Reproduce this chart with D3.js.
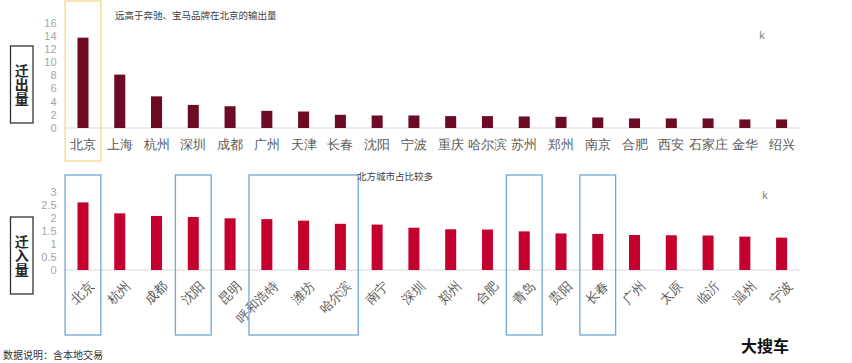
<!DOCTYPE html>
<html>
<head>
<meta charset="utf-8">
<script src="https://cdn.jsdelivr.net/npm/d3@7"></script>
<style>
  body { margin: 0; background: #fff; }
  svg { display: block; font-family: "Noto Sans CJK SC", "Noto Sans", sans-serif; }
</style>
</head>
<body>
<svg id="chart" width="852" height="363"></svg>
<script>
// 迁出量 (k)
const outCities = ["北京", "上海", "杭州", "深圳", "成都", "广州", "天津", "长春", "沈阳", "宁波",
    "重庆", "哈尔滨", "苏州", "郑州", "南京", "合肥", "西安", "石家庄", "金华", "绍兴"];
const outValues = [13.7, 8.1, 4.8, 3.5, 3.3, 2.6, 2.5, 2.0, 1.9, 1.9,
    1.8, 1.8, 1.75, 1.7, 1.6, 1.45, 1.45, 1.45, 1.3, 1.3];
const outTicks = [0, 2, 4, 6, 8, 10, 12, 14, 16];

// 迁入量 (k)
const inCities = ["北京", "杭州", "成都", "沈阳", "昆明", "呼和浩特", "潍坊", "哈尔滨", "南宁", "深圳",
    "郑州", "合肥", "青岛", "贵阳", "长春", "广州", "太原", "临沂", "温州", "宁波"];
const inValues = [2.59, 2.17, 2.07, 2.03, 1.98, 1.95, 1.89, 1.77, 1.74, 1.62,
    1.56, 1.55, 1.48, 1.40, 1.38, 1.34, 1.33, 1.32, 1.28, 1.24];
const inTicks = [0, 0.5, 1, 1.5, 2, 2.5, 3];

// highlighted groups in the lower chart
const northGroups = [["北京"], ["沈阳"], ["呼和浩特", "潍坊", "哈尔滨"], ["青岛"], ["长春"]];

const COLORS = {
    outBar: "#6d0b24",
    inBar: "#c4002f",
    tick: "#a6a6a6",
    label: "#595959",
    base: "#d9d9d9",
    yellow: "#f3d88a",
    blue: "#6fa8d6"
};

const svg = d3.select("#chart");
const X0 = 64.6, X1 = 800;

function drawPanel(cfg) {
    const x = d3.scaleBand()
        .domain(cfg.cities)
        .range([X0, X1])
        .paddingInner(0.7)
        .paddingOuter(0.35);

    const y = d3.scaleLinear()
        .domain([0, cfg.ticks[cfg.ticks.length - 1]])
        .range([cfg.base, cfg.top]);

    // baseline
    svg.append("line")
        .attr("x1", X0).attr("x2", X1)
        .attr("y1", cfg.base).attr("y2", cfg.base)
        .attr("stroke", COLORS.base).attr("stroke-width", 1);

    // y axis
    const yAxis = svg.append("g")
        .attr("transform", `translate(${X0},0)`)
        .call(d3.axisLeft(y).tickValues(cfg.ticks).tickFormat(d3.format("~g")).tickSize(0).tickPadding(8));
    yAxis.select(".domain").remove();
    yAxis.selectAll("text")
        .attr("fill", COLORS.tick)
        .style("font-family", "'Liberation Sans', sans-serif")
        .style("font-size", "11px");

    // bars
    svg.append("g").selectAll("rect")
        .data(cfg.cities.map((c, i) => ({ city: c, v: cfg.values[i] })))
        .join("rect")
        .attr("x", d => x(d.city))
        .attr("width", x.bandwidth())
        .attr("y", d => y(d.v))
        .attr("height", d => cfg.base - y(d.v))
        .attr("fill", cfg.color);

    // x labels
    const xAxis = svg.append("g")
        .attr("transform", `translate(0,${cfg.base})`)
        .call(d3.axisBottom(x).tickSize(0).tickPadding(cfg.rotate ? 8 : 12));
    xAxis.select(".domain").remove();
    const xt = xAxis.selectAll("text")
        .attr("fill", COLORS.label)
        .style("font-size", "13px");
    if (cfg.rotate) {
        xt.attr("text-anchor", "end")
            .attr("dy", "0.35em")
            .attr("transform", "translate(3,8) rotate(-45)");
    }

    // "k" unit
    svg.append("text")
        .attr("x", cfg.unit[0]).attr("y", cfg.unit[1])
        .attr("fill", "#7f7f7f")
        .style("font-family", "'Noto Sans', sans-serif")
        .style("font-size", "11px")
        .text("k");

    // left title box, vertical text
    svg.append("rect")
        .attr("x", 10.5).attr("y", cfg.boxY)
        .attr("width", 22.5).attr("height", 77)
        .attr("fill", "none").attr("stroke", "#333").attr("stroke-width", 1.3);
    svg.append("text")
        .attr("x", 21.8)
        .attr("y", cfg.boxY + 38.5)
        .attr("text-anchor", "middle")
        .style("writing-mode", "vertical-rl")
        .attr("fill", "#262626")
        .style("font-size", "14px")
        .style("font-weight", "bold")
        .text(cfg.title);

    return x;
}

const xOut = drawPanel({
    cities: outCities, values: outValues, ticks: outTicks,
    base: 128, top: 22.5, color: COLORS.outBar, rotate: false,
    unit: [759, 39], boxY: 46, title: "迁出量"
});

const xIn = drawPanel({
    cities: inCities, values: inValues, ticks: inTicks,
    base: 270, top: 191.7, color: COLORS.inBar, rotate: true,
    unit: [762, 199], boxY: 217, title: "迁入量"
});

// yellow highlight on 北京 (top)
const pad = (xOut.step() - xOut.bandwidth()) / 2;
svg.append("rect")
    .attr("x", xOut("北京") - pad + 0.5).attr("y", 1)
    .attr("width", xOut.step() - 1).attr("height", 160)
    .attr("fill", "none").attr("stroke", COLORS.yellow).attr("stroke-width", 1.3);

// blue highlights (bottom)
northGroups.forEach(g => {
    const a = xIn(g[0]) - pad + 0.5;
    const b = xIn(g[g.length - 1]) + xIn.bandwidth() + pad - 0.5;
    svg.append("rect")
        .attr("x", a).attr("y", 175)
        .attr("width", b - a).attr("height", 160)
        .attr("fill", "none").attr("stroke", COLORS.blue).attr("stroke-width", 1.3);
});

// annotations
svg.append("text")
    .attr("x", 115).attr("y", 18.5)
    .attr("fill", "#404040").style("font-size", "9.5px")
    .text("远高于奔驰、宝马品牌在北京的输出量");

svg.append("text")
    .attr("x", 357).attr("y", 180)
    .attr("fill", "#404040").style("font-size", "9.5px")
    .text("北方城市占比较多");

svg.append("text")
    .attr("x", 3).attr("y", 358.5)
    .attr("fill", "#333").style("font-size", "10px")
    .text("数据说明：含本地交易");

svg.append("text")
    .attr("x", 741).attr("y", 352)
    .attr("fill", "#111").style("font-size", "16px").style("font-weight", "bold")
    .text("大搜车");
</script>
</body>
</html>
